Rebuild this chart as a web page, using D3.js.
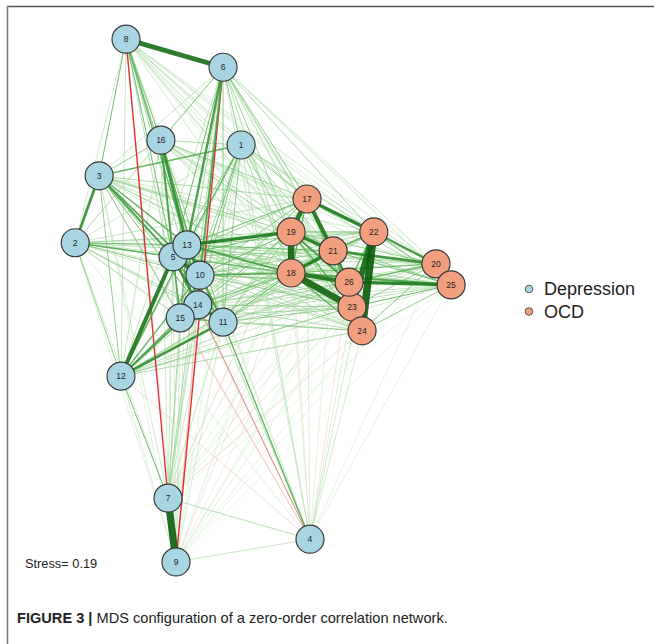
<!DOCTYPE html>
<html><head><meta charset="utf-8">
<script src="https://cdn.jsdelivr.net/npm/d3@7"></script>
<style>html,body{margin:0;padding:0;background:#fff;}svg{display:block;}</style>
</head><body>
<svg id="c" width="654" height="644"></svg>
<script>
// ---- DATA ----
const nodeLabels = ["1","2","3","4","5","6","7","8","9","10","11","12","13","14","15","16","17","18","19","20","21","22","23","24","25","26"];
const nodeGroup = ["Depression","Depression","Depression","Depression","Depression","Depression","Depression","Depression","Depression","Depression","Depression","Depression","Depression","Depression","Depression","Depression","OCD","OCD","OCD","OCD","OCD","OCD","OCD","OCD","OCD","OCD"];
// MDS coordinates (arbitrary units)
const mdsX = [45.5, 6.0, 11.7, 61.9, 29.3, 41.2, 28.1, 18.1, 30.0, 35.7, 41.2, 16.9, 32.6, 35.2, 31.0, 26.4, 61.2, 57.4, 57.4, 91.9, 67.4, 77.1, 71.9, 74.3, 95.5, 71.2];
const mdsY = [78.7, 60.6, 73.0, 5.7, 58.0, 93.1, 13.3, 98.3, 1.5, 54.6, 45.9, 35.9, 60.2, 49.1, 46.7, 79.6, 68.7, 55.0, 62.6, 56.7, 59.1, 62.6, 48.7, 44.3, 52.8, 53.3];
// Depression-Depression correlations (upper triangle; row i lists nodes i+1..16)
const depDep = [
  [0.05,0.15,0.06,0.10,0.10,0.05,0.06,0.03,0.12,0.10,0.08,0.14,0.10,0.08,0.08],
  [0.25,0.03,0.15,0.05,0.04,0.05,0.03,0.10,0.08,0.10,0.12,0.08,0.08,0.06],
  [-0.03,0.20,0.06,0.05,0.12,0.03,0.18,0.10,0.10,0.15,0.12,0.10,0.10],
  [0.04,0.05,0.07,0.03,0.06,0.05,0.15,-0.04,0.04,-0.10,-0.05,0.04],
  [0.12,0.06,0.12,0.04,0.35,0.15,0.35,0.25,0.25,0.18,0.20],
  [0.08,0.42,-0.15,0.18,0.10,0.06,0.22,0.10,0.08,0.10],
  [-0.15,0.60,0.06,0.06,0.12,0.06,0.07,0.08,0.05],
  [0.03,0.10,0.08,0.06,0.15,0.08,0.07,0.10],
  [0.04,0.05,0.04,0.04,-0.05,0.05,0.03],
  [0.20,0.15,0.25,0.30,0.15,0.15],
  [0.25,0.12,0.28,0.15,0.08],
  [0.15,0.20,0.15,0.06],
  [0.18,0.15,0.25],
  [0.20,0.10],
  [0.08],
  []
];
// Depression (rows 1..16) x OCD (cols 17..26)
const depOcd = [
  [0.10,0.08,0.10,0.06,0.08,0.07,0.05,0.04,0.05,0.06],
  [0.06,0.08,0.08,0.07,0.06,0.05,0.06,0.05,0.06,0.07],
  [0.08,0.07,0.09,0.05,0.07,0.05,0.06,0.04,0.05,0.06],
  [0.04,0.03,-0.03,0.03,0.03,0.05,0.04,0.05,0.03,-0.03],
  [0.09,0.12,0.12,0.06,0.09,0.07,0.08,0.06,0.06,0.08],
  [0.10,0.07,0.09,0.06,0.08,0.08,0.05,0.05,0.06,0.06],
  [0.03,0.04,-0.03,0.02,0.03,0.03,0.04,-0.03,0.02,0.03],
  [0.07,0.05,0.06,0.05,0.06,0.05,0.04,0.03,0.04,0.05],
  [0.02,-0.03,0.02,0.02,-0.02,0.03,0.03,0.03,0.02,0.02],
  [0.10,0.18,0.12,0.07,0.10,0.08,0.10,0.07,0.07,0.10],
  [0.08,0.12,0.09,0.07,0.08,0.08,0.10,0.09,0.07,0.09],
  [0.05,0.10,0.07,0.05,0.06,0.05,0.10,0.08,0.05,0.07],
  [0.12,0.20,0.30,0.08,0.12,0.10,0.08,0.07,0.08,0.10],
  [0.08,0.12,0.09,0.06,0.08,0.07,0.09,0.07,0.06,0.08],
  [0.07,0.10,0.08,0.06,0.07,0.06,0.08,0.07,0.06,0.07],
  [0.09,0.07,0.09,0.05,0.07,0.06,0.05,0.04,0.05,0.05]
];
// OCD-OCD correlations (upper triangle; row i lists nodes i+1..26, starting at 17)
const ocdOcd = [
  [0.15,0.40,0.08,0.35,0.30,0.10,0.08,0.08,0.12],
  [0.55,0.12,0.30,0.10,0.55,0.15,0.20,0.35],
  [0.10,0.30,0.12,0.15,0.10,0.10,0.20],
  [0.25,0.22,0.10,0.10,0.40,0.15],
  [0.15,0.15,0.12,0.12,0.25],
  [0.50,0.62,0.12,0.15],
  [0.30,0.12,0.30],
  [0.10,0.12],
  [0.30],
  []
];
const legendGroups = ["Depression","OCD"];
const stressLabel = "Stress= 0.19";
const captionBold = "FIGURE 3 |";
const captionText = " MDS configuration of a zero-order correlation network.";

// ---- BUILD EDGES ----
const edges = [];
depDep.forEach((row,i)=>row.forEach((w,k)=>edges.push({s:i, t:i+1+k, w})));
depOcd.forEach((row,i)=>row.forEach((w,k)=>edges.push({s:i, t:16+k, w})));
ocdOcd.forEach((row,i)=>row.forEach((w,k)=>edges.push({s:16+i, t:16+i+1+k, w})));
edges.sort((a,b)=>Math.abs(a.w)-Math.abs(b.w));

// ---- SCALES ----
const x = d3.scaleLinear().domain([0,100]).range([50,470]);
const y = d3.scaleLinear().domain([0,100]).range([570,30]);
const posCol = d3.scaleLinear().domain([0,0.05,0.12,0.3,0.62]).range(["#eef8ec","#bde3b7","#62b75e","#1b7a1b","#0a5c0a"]).clamp(true);
const negCol = d3.scaleLinear().domain([0,0.04,0.08,0.15]).range(["#fdf0f0","#f4c6c6","#e88c8c","#e31a1c"]).clamp(true);
const widthScale = w => { const a=Math.abs(w); return a<0.12 ? 0.6+3.2*a : 1+13*(a-0.12); };
const groupColor = d3.scaleOrdinal().domain(legendGroups).range(["#a9d5e3","#f29f80"]);

const svg = d3.select("#c");
// frame
svg.append("line").attr("x1",7).attr("x2",654).attr("y1",6.5).attr("y2",6.5).attr("stroke","#555").attr("stroke-width",1.5);
svg.append("line").attr("x1",7.5).attr("x2",7.5).attr("y1",6).attr("y2",644).attr("stroke","#777").attr("stroke-width",1.5);

// edges
svg.append("g").selectAll("line").data(edges).join("line")
  .attr("x1",d=>x(mdsX[d.s])).attr("y1",d=>y(mdsY[d.s]))
  .attr("x2",d=>x(mdsX[d.t])).attr("y2",d=>y(mdsY[d.t]))
  .attr("stroke",d=>d.w>=0?posCol(d.w):negCol(-d.w))
  .attr("stroke-width",d=>widthScale(d.w))
  .attr("stroke-opacity",0.9);

// nodes
const ng = svg.append("g").selectAll("g").data(nodeLabels.map((l,i)=>({l,i}))).join("g")
  .attr("transform",d=>`translate(${x(mdsX[d.i])},${y(mdsY[d.i])})`);
ng.append("circle").attr("r",14).attr("fill",d=>groupColor(nodeGroup[d.i])).attr("stroke","#3a3a3a").attr("stroke-width",1.2);
ng.append("text").text(d=>d.l).attr("text-anchor","middle").attr("dy","0.35em")
  .attr("font-family","Liberation Sans, Arial, sans-serif").attr("font-size",8.5).attr("fill","#222");

// legend
const lg = svg.append("g").selectAll("g").data(legendGroups).join("g")
  .attr("transform",(d,i)=>`translate(529,${289+i*22.5})`);
lg.append("circle").attr("r",3.8).attr("fill",d=>groupColor(d)).attr("stroke","#555").attr("stroke-width",1);
lg.append("text").text(d=>d).attr("x",15).attr("dy","0.36em")
  .attr("font-family","Liberation Sans, Arial, sans-serif").attr("font-size",18).attr("fill","#222");

// stress
svg.append("text").text(stressLabel).attr("x",25).attr("y",568)
  .attr("font-family","Liberation Sans, Arial, sans-serif").attr("font-size",12.8).attr("fill","#222");

// caption
const cap = svg.append("text").attr("x",17).attr("y",623)
  .attr("font-family","Liberation Sans, Arial, sans-serif").attr("font-size",14.6).attr("fill","#222");
cap.append("tspan").attr("font-weight","bold").text(captionBold);
cap.append("tspan").text(captionText);
</script>
</body></html>
